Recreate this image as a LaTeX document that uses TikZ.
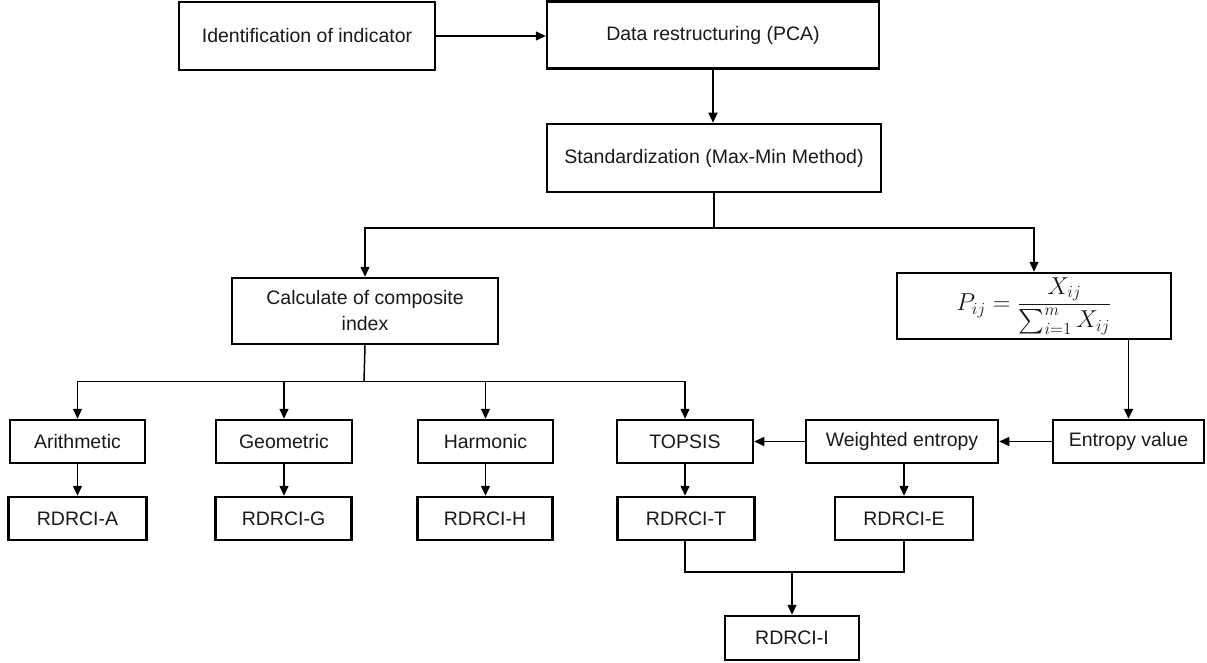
\documentclass[tikz,border=0pt]{standalone}
\usepackage{amsmath}
\usepackage{graphicx}
\usepackage[no-math]{fontspec}
\setmainfont{Liberation Sans}
\usetikzlibrary{arrows.meta}
\begin{document}
\begin{tikzpicture}[x=1pt,y=-1pt,
  box/.style={draw=black, line width=2.5pt, inner sep=0pt, align=center,
    font=\fontsize{19.5}{26}\selectfont, text=black!90},
  rowbox/.style={box, minimum height=43pt},
  conn/.style={line width=1.5pt, draw=black},
  arr/.style={conn, -{Triangle[length=10pt,width=9pt]}}]
\useasboundingbox (0,0) rectangle (1207,663);
% top part
\node[box, minimum width=256pt, minimum height=68pt] (ident) at (307,36) {Identification of indicator};
\node[box, minimum width=332pt, minimum height=67pt] (data) at (713,35) {Data restructuring (PCA)};
\node[box, minimum width=334pt, minimum height=68pt] (stan) at (714,158) {Standardization (Max-Min Method)};
\node[box, minimum width=266pt, minimum height=66pt] (calc) at (365,311) {Calculate of composite\\index};
\node[box, minimum width=274pt, minimum height=66pt] (pbox) at (1034,306) {\scalebox{1.18}{$P_{ij}=\dfrac{X_{ij}}{\sum_{i=1}^{m}X_{ij}}$}};
% first row
\node[rowbox, minimum width=135pt] (arith) at (77.5,441.5) {Arithmetic};
\node[rowbox, minimum width=136pt] (geom) at (284,441.5) {Geometric};
\node[rowbox, minimum width=135pt] (harm) at (485.5,441.5) {Harmonic};
\node[rowbox, minimum width=136pt] (topsis) at (685,441.5) {TOPSIS};
\node[rowbox, minimum width=192pt] (went) at (902,441.5) {Weighted entropy};
\node[rowbox, minimum width=151pt] (entv) at (1128.5,441.5) {Entropy value};
% second row
\node[rowbox, minimum width=138pt] (rdrcia) at (77.5,518.5) {RDRCI-A};
\node[rowbox, minimum width=136pt] (rdrcig) at (283.5,518.5) {RDRCI-G};
\node[rowbox, minimum width=135pt] (rdrcih) at (485,518.5) {RDRCI-H};
\node[rowbox, minimum width=137pt] (rdrcit) at (686,518.5) {RDRCI-T};
\node[rowbox, minimum width=138pt] (rdrcie) at (904,518.5) {RDRCI-E};
\node[rowbox, minimum width=134pt, minimum height=44pt] (rdrcii) at (792,638) {RDRCI-I};
% split points
\coordinate (s1) at (714,228);
\coordinate (s2) at (364,381.5);
\coordinate (m1) at (792,572);
% connectors
\draw[arr] (ident.east) -- (ident.east -| data.west);
\draw[arr] (data.south) -- (data.south |- stan.north);
\draw[conn] (stan.south) -- (s1);
\draw[arr] (s1) -| (calc.north);
\draw[arr] (s1) -| (pbox.north);
\draw[conn] (calc.south) -- (s2);
\draw[arr] (s2) -| (arith.north);
\draw[arr] (s2) -| (geom.north);
\draw[arr] (s2) -| (harm.north);
\draw[arr] (s2) -| (topsis.north);
\draw[arr] (entv.north |- pbox.south) -- (entv.north);
\draw[arr] (entv.west) -- (went.east);
\draw[arr] (went.west) -- (topsis.east);
\draw[arr] (arith.south) -- (rdrcia.north);
\draw[arr] (geom.south) -- (geom.south |- rdrcig.north);
\draw[arr] (harm.south) -- (harm.south |- rdrcih.north);
\draw[arr] (topsis.south) -- (topsis.south |- rdrcit.north);
\draw[arr] (rdrcie.north |- went.south) -- (rdrcie.north);
\draw[conn] (topsis.south |- rdrcit.south) |- (m1);
\draw[conn] (rdrcie.south) |- (m1);
\draw[arr] (m1) -- (rdrcii.north);
\end{tikzpicture}
\end{document}
